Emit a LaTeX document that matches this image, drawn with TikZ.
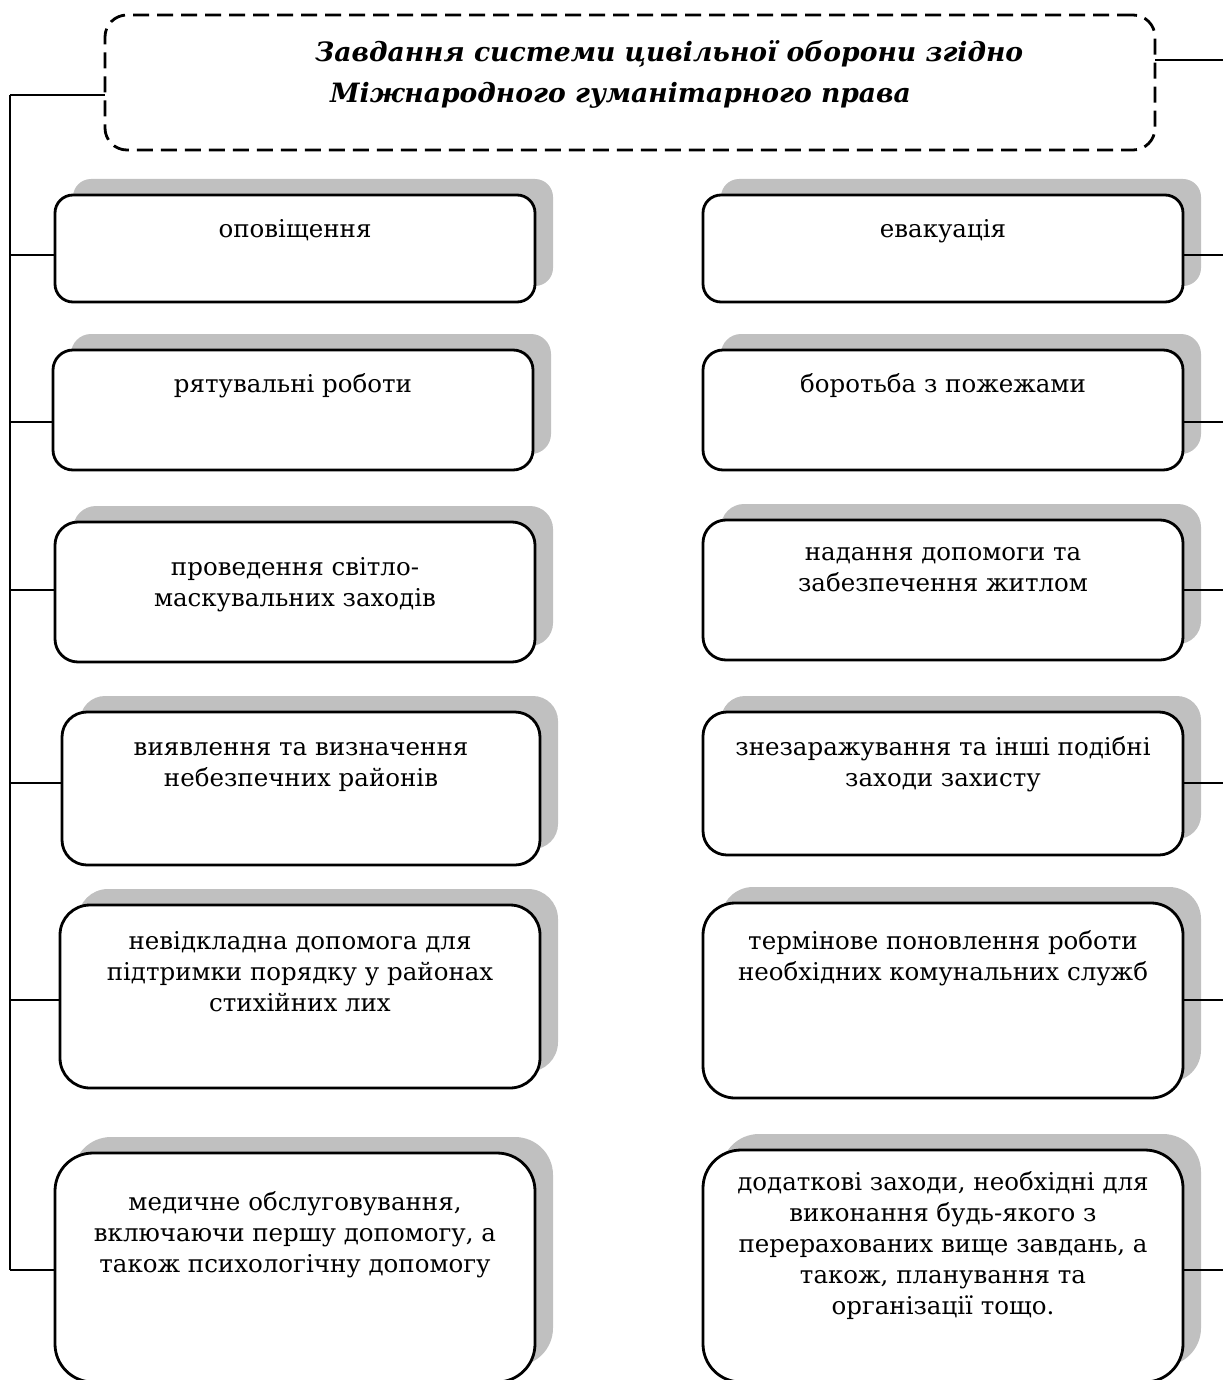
\documentclass[tikz,border=0pt]{standalone}
\usepackage{fontspec}
\setmainfont{DejaVu Serif}
\usetikzlibrary{shadows}
\definecolor{shc}{HTML}{C0C0C0}
\begin{document}
\begin{tikzpicture}[x=1pt,y=-1pt,
 taskbox/.style={draw=black, line width=2.8pt, fill=white, inner sep=0pt, outer sep=0pt,
   general shadow={draw=none, fill=shc, shadow xshift=18pt, shadow yshift=16pt}},
 tasktext/.style={anchor=north, align=center, inner sep=0pt, font=\fontsize{24.5}{31}\selectfont},
 link/.style={draw=black, line width=1.2pt},
 titlebox/.style={draw=black, line width=2.8pt, dash pattern=on 16pt off 8pt, inner sep=0pt, outer sep=0pt}
]
\useasboundingbox (0,0) rectangle (1223,1380);

% title
\node[titlebox, minimum width=1050, minimum height=135, rounded corners=22] (title) at (630,82.5) {};
\node[anchor=north west, align=left, inner sep=0pt, font=\fontsize{26.6}{41}\selectfont\bfseries\itshape]
  (titletxt) at (315,33) {\strut Завдання системи цивільної оборони згідно\\\hspace*{15pt}Міжнародного гуманітарного права};

% left column
\node[taskbox, minimum width=480, minimum height=107, rounded corners=18] (L1) at (295,248.5) {};
\node[taskbox, minimum width=480, minimum height=120, rounded corners=20] (L2) at (293,410) {};
\node[taskbox, minimum width=480, minimum height=140, rounded corners=23] (L3) at (295,592) {};
\node[taskbox, minimum width=478, minimum height=153, rounded corners=25] (L4) at (301,788.5) {};
\node[taskbox, minimum width=480, minimum height=183, rounded corners=30] (L5) at (300,996.5) {};
\node[taskbox, minimum width=480, minimum height=229, rounded corners=38] (L6) at (295,1267.5) {};

% right column
\node[taskbox, minimum width=480, minimum height=107, rounded corners=18] (R1) at (943,248.5) {};
\node[taskbox, minimum width=480, minimum height=120, rounded corners=20] (R2) at (943,410) {};
\node[taskbox, minimum width=480, minimum height=140, rounded corners=23] (R3) at (943,590) {};
\node[taskbox, minimum width=480, minimum height=143, rounded corners=24] (R4) at (943,783.5) {};
\node[taskbox, minimum width=480, minimum height=195, rounded corners=32] (R5) at (943,1000.5) {};
\node[taskbox, minimum width=480, minimum height=232, rounded corners=38] (R6) at (943,1266) {};

% texts
\node[tasktext] (L1t) at (295,216) {\strut оповіщення};
\node[tasktext] (L2t) at (293,371) {\strut рятувальні роботи};
\node[tasktext] (L3t) at (295,554) {\strut проведення світло-\\маскувальних заходів};
\node[tasktext] (L4t) at (301,734) {\strut виявлення та визначення\\небезпечних районів};
\node[tasktext] (L5t) at (300,928) {\strut невідкладна допомога для\\підтримки порядку у районах\\стихійних лих};
\node[tasktext] (L6t) at (295,1189) {\strut медичне обслуговування,\\включаючи першу допомогу, а\\також психологічну допомогу};

\node[tasktext] (R1t) at (943,216) {\strut евакуація};
\node[tasktext] (R2t) at (943,371) {\strut боротьба з пожежами};
\node[tasktext] (R3t) at (943,539) {\strut надання допомоги та\\забезпечення житлом};
\node[tasktext] (R4t) at (943,734) {\strut знезаражування та інші подібні\\заходи захисту};
\node[tasktext] (R5t) at (943,928) {\strut термінове поновлення роботи\\необхідних комунальних служб};
\node[tasktext] (R6t) at (943,1169) {\strut додаткові заходи, необхідні для\\виконання будь-якого з\\перерахованих вище завдань, а\\також, планування та\\організації тощо.};

% left bus
\coordinate (lb0) at (10,95);
\coordinate (lb1) at (10,255);
\coordinate (lb2) at (10,422);
\coordinate (lb3) at (10,590);
\coordinate (lb4) at (10,783);
\coordinate (lb5) at (10,1000);
\coordinate (lb6) at (10,1270);
\draw[link] (lb0) -- (lb6);
\draw[link] (lb0) -- (lb0 -| title.west);
\draw[link] (lb1) -- (lb1 -| L1.west);
\draw[link] (lb2) -- (lb2 -| L2.west);
\draw[link] (lb3) -- (lb3 -| L3.west);
\draw[link] (lb4) -- (lb4 -| L4.west);
\draw[link] (lb5) -- (lb5 -| L5.west);
\draw[link] (lb6) -- (lb6 -| L6.west);

% right ends
\coordinate (rb0) at (1223,60);
\coordinate (rb1) at (1223,255);
\coordinate (rb2) at (1223,422);
\coordinate (rb3) at (1223,590);
\coordinate (rb4) at (1223,783);
\coordinate (rb5) at (1223,1000);
\coordinate (rb6) at (1223,1270);
\draw[link] (rb0 -| title.east) -- (rb0);
\draw[link] (rb1 -| R1.east) -- (rb1);
\draw[link] (rb2 -| R2.east) -- (rb2);
\draw[link] (rb3 -| R3.east) -- (rb3);
\draw[link] (rb4 -| R4.east) -- (rb4);
\draw[link] (rb5 -| R5.east) -- (rb5);
\draw[link] (rb6 -| R6.east) -- (rb6);
\end{tikzpicture}
\end{document}
